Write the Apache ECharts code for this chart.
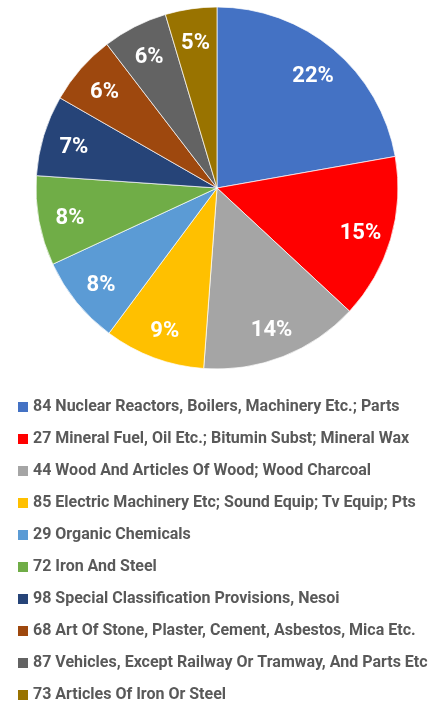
<!DOCTYPE html>
<html>
<head>
<meta charset="utf-8">
<script src="https://cdn.jsdelivr.net/npm/echarts@6/dist/echarts.min.js"></script>
<style>
  html, body { margin: 0; padding: 0; background: #fff; }
  #chart { width: 440px; height: 705px; }
</style>
</head>
<body>
<div id="chart"></div>
<script>
// categories, in clockwise order from the top
const categories = [
  '84 Nuclear Reactors, Boilers, Machinery Etc.; Parts',
  '27 Mineral Fuel, Oil Etc.; Bitumin Subst; Mineral Wax',
  '44 Wood And Articles Of Wood; Wood Charcoal',
  '85 Electric Machinery Etc; Sound Equip; Tv Equip; Pts',
  '29 Organic Chemicals',
  '72 Iron And Steel',
  '98 Special Classification Provisions, Nesoi',
  '68 Art Of Stone, Plaster, Cement, Asbestos, Mica Etc.',
  '87 Vehicles, Except Railway Or Tramway, And Parts Etc',
  '73 Articles Of Iron Or Steel'
]
// share of total, %
const shares = [22.2, 14.7, 14.25, 9.0, 7.9, 8.0, 7.2, 6.3, 5.8, 4.6]
const colors = ['#4472C4', '#FF0000', '#A5A5A5', '#FFC000', '#5B9BD5',
                '#70AD47', '#264478', '#9E480E', '#636363', '#997300']

const font = 'Roboto, "Liberation Sans", Arial, sans-serif'

const data = categories.map((name, i) => ({
  name,
  value: shares[i],
  itemStyle: { color: colors[i] }
}))

const chart = echarts.init(document.getElementById('chart'))
chart.setOption({
  animation: false,
  backgroundColor: '#fff',
  legend: {
    orient: 'vertical',
    left: 18,
    top: 397,
    padding: 0,
    icon: 'rect',
    itemWidth: 10,
    itemHeight: 10,
    itemGap: 12,
    itemStyle: { borderWidth: 0 },
    data: categories,
    textStyle: {
      fontFamily: font,
      fontWeight: 'bold',
      fontSize: 16,
      lineHeight: 20,
      color: '#595959'
    }
  },
  series: [
    {
      // the slices
      type: 'pie',
      center: [217, 188],
      radius: [0, 181],
      startAngle: 90,
      clockwise: true,
      label: { show: false },
      labelLine: { show: false },
      itemStyle: { borderColor: '#fff', borderWidth: 0.7 },
      emphasis: { disabled: true },
      data
    },
    {
      // transparent ring that only carries the percent labels further out
      type: 'pie',
      center: [217, 188],
      radius: [112, 181],
      startAngle: 90,
      clockwise: true,
      silent: true,
      itemStyle: { color: 'rgba(0,0,0,0)' },
      label: {
        show: true,
        position: 'inside',
        offset: [0, 3],
        formatter: p => Math.round(p.percent) + '%',
        fontFamily: font,
        fontWeight: 'bold',
        fontSize: 22,
        color: '#fff'
      },
      labelLine: { show: false },
      emphasis: { disabled: true },
      data: categories.map((name, i) => ({ name, value: shares[i] }))
    }
  ]
})
</script>
</body>
</html>
